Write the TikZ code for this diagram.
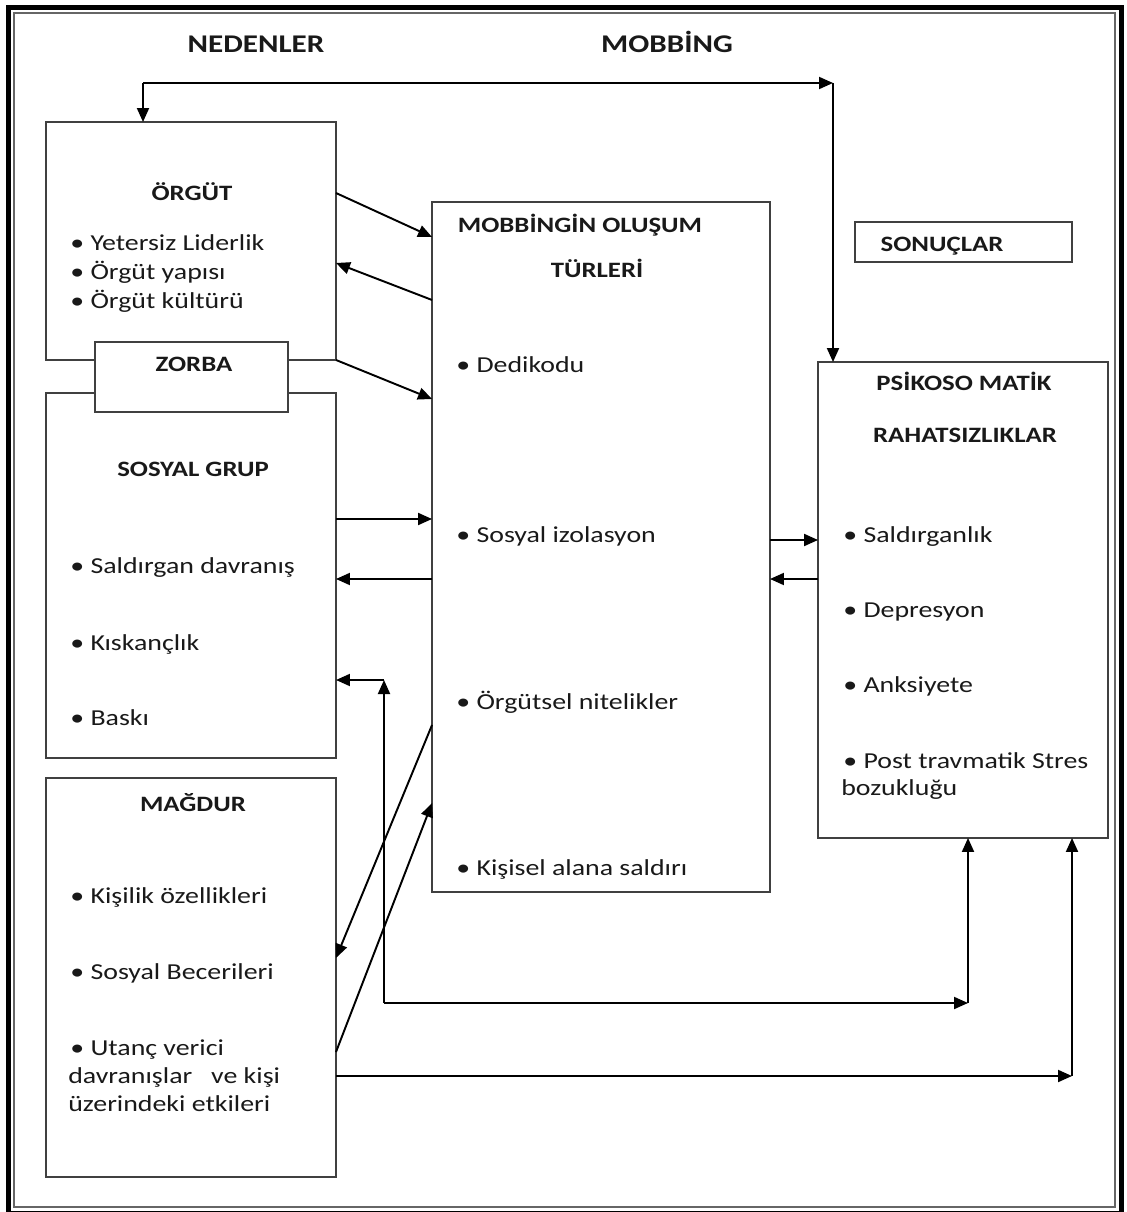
\documentclass[tikz,border=0pt]{standalone}
\usepackage{fontspec}
\setmainfont{Carlito}[FakeStretch=1.22]
\usetikzlibrary{positioning, arrows.meta, calc}

\begin{document}
\begin{tikzpicture}[x=0.02cm, y=-0.02cm,
    box/.style={rectangle, draw=black!75, line width=0.9pt, inner sep=0pt, outer sep=0pt},
    heading/.style={inner sep=0pt, anchor=base, text=black!90, font=\bfseries\fontsize{14.5}{17}\selectfont},
    ttl/.style={inner sep=0pt, anchor=base, text=black!90, font=\bfseries\fontsize{12.5}{15}\selectfont},
    entry/.style={inner sep=0pt, anchor=base west, text=black!90, font=\fontsize{13}{15}\selectfont},
    arrow/.style={->, >={Triangle[length=2.8mm, width=2.4mm]}, line width=1.1pt}
  ]
    \useasboundingbox (0,0) rectangle (1126,1212);

    % Frame
    \draw[line width=0.1cm] (8.5,7.5) rectangle (1121.5,1213);
    \draw[black!60, line width=0.04cm] (13.7,13) rectangle (1115,1207);

    % Headings
    \node[heading] (nedenler) at (256,53) {NEDENLER};
    \node[heading] (mobbing) at (667,53) {MOBBİNG};

    % Causes
    \node[box, minimum width=5.8cm, minimum height=4.76cm] (orgut) at (191,241) {};
    \node[box, minimum width=5.8cm, minimum height=7.3cm] (sosyal) at (191,575.5) {};
    \node[box, fill=white, minimum width=3.86cm, minimum height=1.4cm] (zorba) at (191.5,377) {};
    \node[box, minimum width=5.8cm, minimum height=7.98cm] (magdur) at (191,977.5) {};

    \node[ttl] (orgutT) at (192,201) {ÖRGÜT};
    \node[entry] (orgut1) at (70,251) {\textbullet\ Yetersiz Liderlik};
    \node[entry] (orgut2) at (70,280) {\textbullet\ Örgüt yapısı};
    \node[entry] (orgut3) at (70,309) {\textbullet\ Örgüt kültürü};

    \node[ttl] (zorbaT) at (194,372) {ZORBA};

    \node[ttl] (sosyalT) at (193,477) {SOSYAL GRUP};
    \node[entry] (sosyal1) at (70,573) {\textbullet\ Saldırgan davranış};
    \node[entry] (sosyal2) at (70,650) {\textbullet\ Kıskançlık};
    \node[entry] (sosyal3) at (70,725) {\textbullet\ Baskı};

    \node[ttl] (magdurT) at (193,811) {MAĞDUR};
    \node[entry] (magdur1) at (70,903) {\textbullet\ Kişilik özellikleri};
    \node[entry] (magdur2) at (70,979) {\textbullet\ Sosyal Becerileri};
    \node[entry] (magdur3) at (70,1055) {\textbullet\ Utanç verici};
    \node[entry] (magdur4) at (68,1083) {davranışlar\ \ \ ve kişi};
    \node[entry] (magdur5) at (68,1111) {üzerindeki etkileri};

    % Mobbing types
    \node[box, minimum width=6.76cm, minimum height=13.8cm] (turler) at (601,547) {};
    \node[ttl] (turlerT1) at (580,233) {MOBBİNGİN OLUŞUM};
    \node[ttl] (turlerT2) at (597,278) {TÜRLERİ};
    \node[entry] (turler1) at (456,373) {\textbullet\ Dedikodu};
    \node[entry] (turler2) at (456,542) {\textbullet\ Sosyal izolasyon};
    \node[entry] (turler3) at (456,709) {\textbullet\ Örgütsel nitelikler};
    \node[entry] (turler4) at (456,875) {\textbullet\ Kişisel alana saldırı};

    % Results
    \node[box, minimum width=4.34cm, minimum height=0.8cm] (sonuclar) at (963.5,242) {};
    \node[ttl] (sonuclarT) at (942,252) {SONUÇLAR};

    \node[box, minimum width=5.8cm, minimum height=9.52cm] (psiko) at (963,600) {};
    \node[ttl] (psikoT1) at (964,391) {PSİKOSO MATİK};
    \node[ttl] (psikoT2) at (965,442) {RAHATSIZLIKLAR};
    \node[entry] (psiko1) at (843,542) {\textbullet\ Saldırganlık};
    \node[entry] (psiko2) at (843,617) {\textbullet\ Depresyon};
    \node[entry] (psiko3) at (843,692) {\textbullet\ Anksiyete};
    \node[entry] (psiko4) at (843,768) {\textbullet\ Post travmatik Stres};
    \node[entry] (psiko5) at (841,795) {bozukluğu};

    % Causes <-> mobbing types
    \draw[arrow] (orgut.east |- 0,193) -- (turler.west |- 0,237);
    \draw[arrow] (turler.west |- 0,300) -- (orgut.east |- 0,263);
    \draw[arrow] (orgut.south east) -- (turler.west |- 0,399);
    \draw[arrow] (sosyal.east |- 0,519) -- (turler.west |- 0,519);
    \draw[arrow] (turler.west |- 0,579) -- (sosyal.east |- 0,579);
    \draw[arrow] (turler.west |- 0,725) -- (magdur.east |- 0,958);
    \draw[arrow] (magdur.east |- 0,1052) -- (turler.west |- 0,803);

    % Mobbing types <-> results
    \draw[arrow] (turler.east |- 0,540) -- (psiko.west |- 0,540);
    \draw[arrow] (psiko.west |- 0,579) -- (turler.east |- 0,579);

    % Top loop
    \coordinate (loopL) at (143,83);
    \coordinate (loopR) at (833,83);
    \draw[arrow] (loopL) -- (orgut.north -| loopL);
    \draw[arrow] (loopL) -- (loopR);
    \draw[arrow] (loopR) -- (psiko.north -| loopR);

    % Bottom loops
    \coordinate (b0) at (384,680);
    \coordinate (b1) at (384,1003);
    \coordinate (b2) at (968,1003);
    \draw[arrow] (b1) -- (b0);
    \draw[arrow] (b0) -- (b0 -| sosyal.east);
    \draw[arrow] (b1) -- (b2);
    \draw[arrow] (b2) -- (b2 |- psiko.south);

    \coordinate (c1) at (1072,1076);
    \draw[arrow] (magdur.east |- c1) -- (c1);
    \draw[arrow] (c1) -- (c1 |- psiko.south);
\end{tikzpicture}
\end{document}
